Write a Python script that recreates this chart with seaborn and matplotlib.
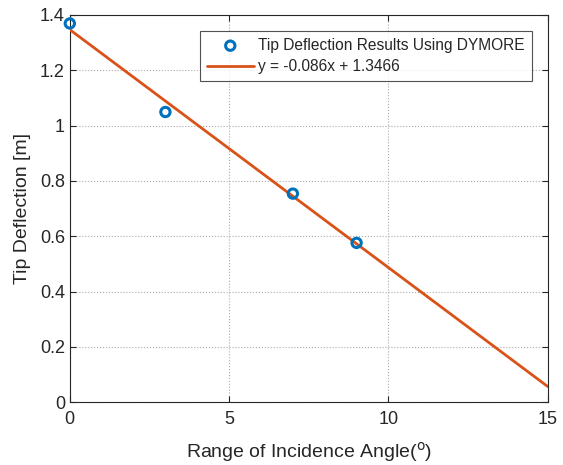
import matplotlib
matplotlib.use("Agg")
import matplotlib.pyplot as plt
import seaborn as sns
import numpy as np
import pandas as pd

angles = [0, 3, 7, 9]
deflections = [1.369, 1.049, 0.754, 0.576]
slope = -0.086
intercept = 1.3466
fit_x = [0, 15]
point_label = "Tip Deflection Results Using DYMORE"
fit_label = "y = -0.086x + 1.3466"

sns.set_style("white")
plt.rcParams['font.family'] = ['Liberation Sans', 'DejaVu Sans']

fig = plt.figure(figsize=(5.63, 4.65), dpi=100)
ax = fig.add_axes([0.124, 0.135, 0.849, 0.833])

pts = pd.DataFrame({"x": angles, "y": deflections})
fit = pd.DataFrame({"x": fit_x, "y": [slope * v + intercept for v in fit_x]})

blue = (0, 0.447, 0.741)
orange = (0.85, 0.325, 0.098)

sns.scatterplot(data=pts, x="x", y="y", ax=ax, marker="o", s=45,
                facecolors="none", edgecolor=blue, linewidth=2.2,
                label=point_label, zorder=4, clip_on=False)
sns.lineplot(data=fit, x="x", y="y", ax=ax, color=orange, linewidth=2,
             label=fit_label, zorder=3)

ax.set_xlim(0, 15)
ax.set_ylim(0, 1.4)
ax.set_xticks([0, 5, 10, 15])
ax.set_yticks([0, 0.2, 0.4, 0.6, 0.8, 1.0, 1.2, 1.4])
ax.set_yticklabels(["0", "0.2", "0.4", "0.6", "0.8", "1", "1.2", "1.4"])
ax.tick_params(labelsize=13, direction="in", length=4, colors="#262626",
               top=True, right=True, bottom=True, left=True)
ax.tick_params(axis="x", pad=6)
ax.grid(True, linestyle=":", color="#aaaaaa", linewidth=0.8)
for s in ax.spines.values():
    s.set_color("#262626")
    s.set_linewidth(0.8)
ax.set_xlabel("Range of Incidence Angle($^{\\mathrm{o}}$)", fontsize=14, color="#262626", labelpad=9)
ax.set_ylabel("Tip Deflection [m]", fontsize=14, color="#262626", labelpad=6)

leg = ax.legend(loc="upper right", bbox_to_anchor=(0.9665, 0.959), borderaxespad=0,
                fontsize=11.2, frameon=True, fancybox=False, edgecolor="#262626",
                handlelength=3.0, borderpad=0.45, labelspacing=0.4, handletextpad=0.3)
leg.get_frame().set_linewidth(0.8)

fig.savefig("out.png", dpi=100)
